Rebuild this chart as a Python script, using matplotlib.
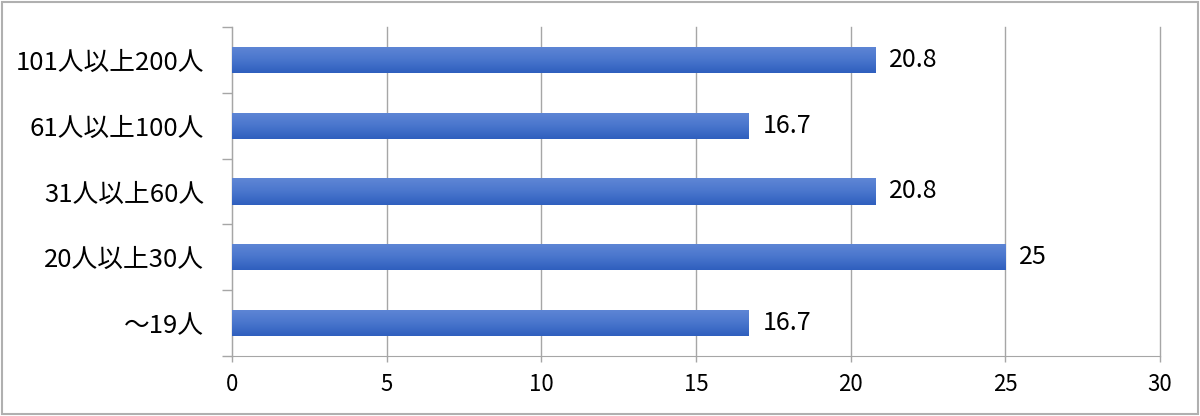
import matplotlib
matplotlib.use("Agg")
import matplotlib.pyplot as plt
import numpy as np
from matplotlib.patches import Rectangle
from matplotlib.colors import LinearSegmentedColormap

plt.rcParams['font.family'] = ['Noto Sans CJK JP', 'DejaVu Sans']

categories = ['〜19人', '20人以上30人', '31人以上60人', '61人以上100人', '101人以上200人']
values = [16.7, 25, 20.8, 16.7, 20.8]
labels = ['16.7', '25', '20.8', '16.7', '20.8']
xticks = [0, 5, 10, 15, 20, 25, 30]

fig = plt.figure(figsize=(12, 4.16), dpi=100)
ax = fig.add_axes([232/1200, 1 - 356/416, (1160-232)/1200, (356-27)/416])

cmap = LinearSegmentedColormap.from_list('g', ['#2F5FBE', '#4A76CD', '#5F86D5'])
grad = np.linspace(0, 1, 64).reshape(-1, 1)
y = np.arange(len(categories))
h = 0.4
bars = ax.barh(y, values, height=h, color='#4472C4', zorder=3)
for b in bars:
    x0, y0 = b.get_x(), b.get_y()
    w, hh = b.get_width(), b.get_height()
    im = ax.imshow(grad, cmap=cmap, aspect='auto', origin='lower',
                   extent=[x0, x0 + w, y0, y0 + hh], zorder=4)
    im.set_clip_path(b)

for yi, v, t in zip(y, values, labels):
    ax.text(v + 0.45, yi, t, va='center', ha='left', fontsize=18, color='black', zorder=5)

ax.set_xlim(0, 30)
ax.set_ylim(-0.5, len(categories) - 0.5)
ax.set_xticks(xticks)
ax.set_xticklabels([str(t) for t in xticks])
ax.set_yticks(y)
ax.set_yticklabels(categories)
ax.set_yticks(np.arange(-0.5, len(categories), 1), minor=True)
ax.tick_params(axis='y', which='major', length=0, pad=20, labelsize=18.5)
ax.tick_params(axis='y', which='minor', length=7, color='#A6A6A6', width=1)
ax.tick_params(axis='x', length=4, color='#A6A6A6', width=1, pad=8, labelsize=16)
ax.grid(axis='x', color='#A6A6A6', linewidth=1, zorder=0)
for gl in ax.get_xgridlines():
    gl.set_clip_on(False)
ax.set_axisbelow(True)
for s in ['top', 'right']:
    ax.spines[s].set_visible(False)
ax.spines['left'].set_color('#A6A6A6')
ax.spines['bottom'].set_color('#A6A6A6')

fig.patches.append(Rectangle((2/1200, 2/416), 1 - 4/1200, 1 - 4/416, transform=fig.transFigure,
                             fill=False, edgecolor='#B0B0B0', linewidth=1.5))

fig.savefig('out.png', dpi=100)
